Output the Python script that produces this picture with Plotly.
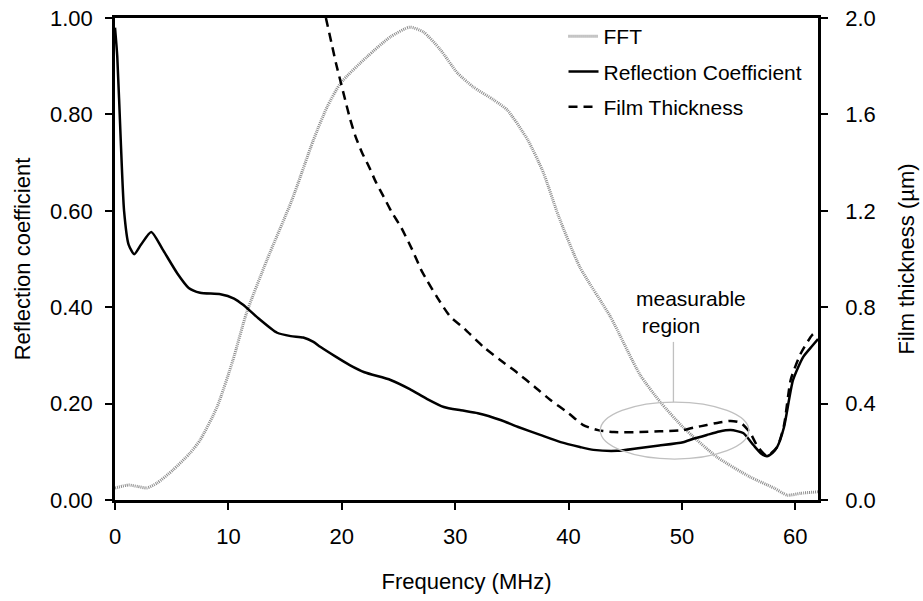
import plotly.graph_objects as go

# ---- data ----
fft_x = [0, 1.2, 2.0, 2.8, 3.7, 5.1, 6.6, 7.5, 9.0, 10.4, 11.6, 13.4, 15.6, 17.5, 18.7, 19.9,
         22.2, 24.3, 26.0, 27.2, 28.7, 30.2, 31.6, 33.4, 34.6, 36.4, 37.8, 39.1, 41.0, 43.7,
         46.3, 48.1, 50.1, 53.1, 56.0, 58.1, 59.3, 60.5, 62.0]
fft_y = [0.025, 0.031, 0.028, 0.025, 0.035, 0.062, 0.097, 0.124, 0.193, 0.29, 0.388, 0.498,
         0.622, 0.747, 0.815, 0.865, 0.919, 0.961, 0.981, 0.971, 0.934, 0.886, 0.857, 0.83,
         0.809, 0.747, 0.678, 0.59, 0.483, 0.38, 0.26, 0.203, 0.151, 0.089, 0.048, 0.025,
         0.01, 0.014, 0.017]

refl_x = [0, 0.2, 0.5, 0.8, 1.2, 1.7, 2.3, 3.2, 4.2, 5.5, 6.5, 7.5, 9.3, 10.5, 11.3, 12.5,
          14.3, 15.5, 16.6, 17.5, 18.1, 19.5, 20.7, 22.0, 24.3, 26.0, 27.5, 29.0, 30.5, 32.0,
          34.0, 35.5, 37.5, 39.3, 41.0, 42.2, 44.3, 46.3, 48.0, 50.1, 51.0, 52.2, 53.3, 54.3,
          55.4, 56.3, 57.0, 57.5, 58.0, 58.4, 59.0, 59.8, 60.7, 61.5, 62.0]
refl_y = [0.98, 0.92, 0.75, 0.60, 0.53, 0.51, 0.53, 0.556, 0.52, 0.47, 0.44, 0.43, 0.427,
          0.418, 0.405, 0.38, 0.347, 0.34, 0.337, 0.328, 0.318, 0.297, 0.28, 0.265, 0.249, 0.23,
          0.21, 0.193, 0.186, 0.18, 0.166, 0.152, 0.135, 0.12, 0.11, 0.104, 0.102, 0.108,
          0.113, 0.12, 0.127, 0.135, 0.142, 0.145, 0.139, 0.114, 0.096, 0.091, 0.098, 0.11,
          0.151, 0.249, 0.297, 0.32, 0.334]

film_x = [18.6, 19.1, 19.5, 19.86, 20.3, 20.74, 21.2, 21.8, 22.4, 23.0, 23.7, 24.4, 25.2,
          26.2, 27.0, 27.5, 28.4, 29.6, 30.7, 32.5, 34.0, 35.5, 37.0, 38.4, 40.0, 41.3, 42.6,
          44.0, 46.3, 48.0, 50.1, 51.0, 52.2, 53.3, 54.3, 55.2, 56.0, 56.7, 57.5, 58.4, 59.0,
          59.6, 60.5, 61.5, 62.0]
film_y = [2.0, 1.895, 1.81, 1.743, 1.66, 1.58, 1.51, 1.44, 1.383, 1.32, 1.258, 1.195, 1.134,
          1.04, 0.955, 0.913, 0.842, 0.759, 0.716, 0.635, 0.58, 0.527, 0.47, 0.415, 0.36, 0.311,
          0.29, 0.282, 0.282, 0.285, 0.29, 0.30, 0.311, 0.322, 0.328, 0.32, 0.28, 0.22, 0.183,
          0.22, 0.31, 0.50, 0.61, 0.685, 0.70]

x_ticks = [0, 10, 20, 30, 40, 50, 60]
y1_ticks = [0.0, 0.2, 0.4, 0.6, 0.8, 1.0]
y1_labels = ["0.00", "0.20", "0.40", "0.60", "0.80", "1.00"]
y2_ticks = [0.0, 0.4, 0.8, 1.2, 1.6, 2.0]
y2_labels = ["0.0", "0.4", "0.8", "1.2", "1.6", "2.0"]

FONT = "Liberation Sans, Arial, sans-serif"

fig = go.Figure()
fig.add_trace(go.Scatter(x=fft_x, y=fft_y, name="FFT", mode="lines",
                         line=dict(color="#8c8c8c", width=3, dash="1px,1px", shape="spline", smoothing=0.6),
                         legendgroup="a"))
fig.add_trace(go.Scatter(x=refl_x, y=refl_y, name="Reflection Coefficient", mode="lines",
                         line=dict(color="black", width=2.5, shape="spline", smoothing=0.6),
                         legendgroup="b"))
fig.add_trace(go.Scatter(x=film_x, y=film_y, name="Film Thickness", mode="lines", yaxis="y2",
                         line=dict(color="black", width=2.5, dash="9px,6px", shape="spline", smoothing=0.6),
                         legendgroup="c"))

# measurable region annotation
fig.add_shape(type="circle", xref="x", yref="y", x0=42.8, x1=55.9, y0=0.085, y1=0.203,
              line=dict(color="#c0c0c0", width=1.3))
fig.add_shape(type="line", xref="x", yref="y", x0=49.25, x1=49.25, y0=0.203, y1=0.328,
              line=dict(color="#c0c0c0", width=1.3))
fig.add_annotation(x=45.8, y=0.333, xref="x", yref="y", text="measurable<br> region",
                   showarrow=False, align="left", xanchor="left", yanchor="bottom",
                   font=dict(family=FONT, size=21, color="black"))

axis_common = dict(showline=True, linecolor="black", linewidth=2.5, ticks="outside",
                   ticklen=7, tickwidth=1.5, tickcolor="black", showgrid=False, zeroline=False,
                   automargin=False, tickfont=dict(family=FONT, size=22, color="black"))

fig.update_layout(
    width=923, height=601,
    margin=dict(l=115, r=105, t=18, b=101, autoexpand=False),
    paper_bgcolor="white", plot_bgcolor="white",
    font=dict(family=FONT, size=22, color="black"),
    xaxis=dict(range=[0, 62], tickvals=x_ticks, mirror=True,
               title=dict(text="Frequency (MHz)", font=dict(family=FONT, size=22), standoff=26),
               ticklabelstandoff=8, **axis_common),
    yaxis=dict(range=[0, 1.0], tickvals=y1_ticks, ticktext=y1_labels,
               title=dict(text="Reflection coefficient", font=dict(family=FONT, size=22), standoff=14),
               ticklabelstandoff=8, **axis_common),
    yaxis2=dict(range=[0, 2.0], tickvals=y2_ticks, ticktext=y2_labels, overlaying="y", side="right",
                title=dict(text="Film thickness (µm)", font=dict(family=FONT, size=22), standoff=24),
                ticklabelstandoff=13, **axis_common),
    legend=dict(x=0.638, y=1.004, xanchor="left", yanchor="top", bgcolor="rgba(0,0,0,0)",
                font=dict(family=FONT, size=21), tracegroupgap=5, traceorder="grouped"),
    showlegend=True,
)

fig.write_html("out.html")
